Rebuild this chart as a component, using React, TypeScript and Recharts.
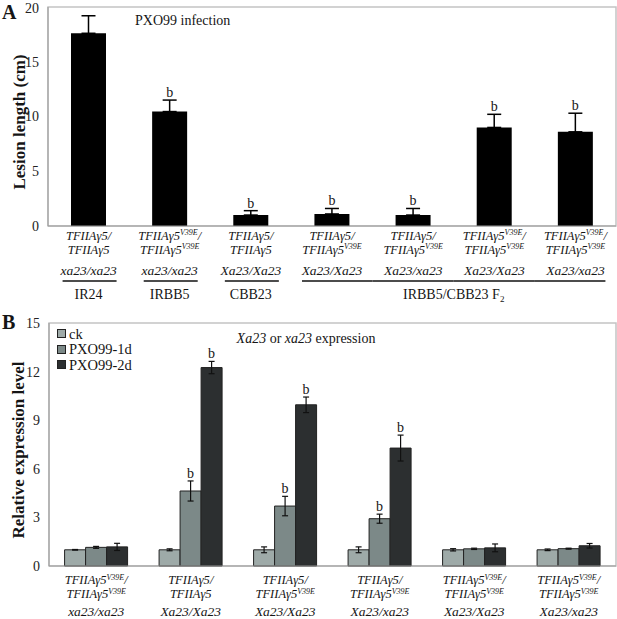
import React from 'react';
import { BarChart, Bar, XAxis, YAxis, ErrorBar, LabelList, ReferenceArea } from 'recharts';

const SERIF = '"Liberation Serif", "Times New Roman", Times, serif';
const GENE = 'TFIIAγ5';

// ---------- Panel A data ----------
const catA = ['IR24', 'IRBB5', 'CBB23', 'F2-1', 'F2-2', 'F2-3', 'F2-4'];
const lesion = [17.6, 10.45, 1.0, 1.1, 1.0, 9.0, 8.6];
const lesionErr = [1.6, 1.05, 0.4, 0.5, 0.6, 1.2, 1.7];
const sigA = ['', 'b', 'b', 'b', 'b', 'b', 'b'];
const sup1A = ['', 'V39E', '', '', '', 'V39E', 'V39E'];
const sup2A = ['', 'V39E', '', 'V39E', 'V39E', 'V39E', 'V39E'];
const xaA = ['xa23/xa23', 'xa23/xa23', 'Xa23/Xa23', 'Xa23/Xa23', 'Xa23/xa23', 'Xa23/Xa23', 'Xa23/xa23'];
const parentA = ['IR24', 'IRBB5', 'CBB23', '', '', '', ''];
const groupLabelA = 'IRBB5/CBB23 F';
const groupSubA = '2';
const yTicksA = [0, 5, 10, 15, 20];

// ---------- Panel B data ----------
const catB = ['G1', 'G2', 'G3', 'G4', 'G5', 'G6'];
const seriesB = ['ck', 'PXO99-1d', 'PXO99-2d'];
const ckVals = [1.0, 1.0, 1.0, 1.0, 1.0, 1.0];
const ckErr = [0.02, 0.06, 0.18, 0.18, 0.07, 0.05];
const d1Vals = [1.15, 4.63, 3.7, 2.92, 1.06, 1.07];
const d1Err = [0.06, 0.62, 0.6, 0.28, 0.04, 0.03];
const d2Vals = [1.18, 12.25, 9.95, 7.28, 1.12, 1.25];
const d2Err = [0.22, 0.38, 0.48, 0.8, 0.24, 0.14];
const sigD1 = ['', 'b', 'b', 'b', '', ''];
const sigD2 = ['', 'b', 'b', 'b', '', ''];
const sup1B = ['V39E', '', '', '', 'V39E', 'V39E'];
const sup2B = ['V39E', '', 'V39E', 'V39E', 'V39E', 'V39E'];
const xaB = ['xa23/xa23', 'Xa23/Xa23', 'Xa23/Xa23', 'Xa23/xa23', 'Xa23/Xa23', 'Xa23/xa23'];
const yTicksB = [0, 3, 6, 9, 12, 15];
const colorsB = ['#9eaaa8', '#7c8988', '#2c2f30'];

const dataA = catA.map((c, i) => ({ cat: c, val: lesion[i], err: [0, lesionErr[i]], sig: sigA[i] }));
const dataB = catB.map((c, i) => ({
  cat: c,
  ck: ckVals[i], ckE: ckErr[i],
  d1: d1Vals[i], d1E: d1Err[i], d1S: sigD1[i],
  d2: d2Vals[i], d2E: d2Err[i], d2S: sigD2[i],
}));

// ---------- layout constants ----------
const W = 617;
const A_H = 312;
const A_LEFT = 48;
const A_RIGHT = 1;
const BAND_A = (W - A_LEFT - A_RIGHT) / catA.length;
const B_TOP = 300;
const B_H = 319;

const txt = (extra: React.CSSProperties = {}): React.CSSProperties => ({ fontFamily: SERIF, ...extra });

function GeneText({ x, y, sup, slash, size = 12.5 }: any) {
  return (
    <text x={x} y={y} textAnchor="middle" fill="#151515" style={txt({ fontStyle: 'italic', fontSize: size })}>
      <tspan>{GENE}</tspan>
      {sup ? <tspan dy={-4.5} style={{ fontSize: 8 }}>{sup}</tspan> : null}
      {slash ? <tspan dy={sup ? 4.5 : 0}>/</tspan> : null}
    </text>
  );
}

function TickA(props: any) {
  const { x, y, payload } = props;
  const i = catA.indexOf(payload.value);
  const first = parentA.indexOf('');
  const last = parentA.lastIndexOf('');
  const inGroup = parentA[i] === '';
  let x1 = x - 26;
  let x2 = x + 28;
  if (inGroup) {
    x1 = i === first ? x - 30 : x - BAND_A / 2;
    x2 = i === last ? x + 30 : x + BAND_A / 2;
  }
  return (
    <g>
      <GeneText x={x} y={y + 13.5} sup={sup1A[i]} slash />
      <GeneText x={x} y={y + 27.5} sup={sup2A[i]} />
      <text x={x} y={y + 49} textAnchor="middle" fill="#151515" style={txt({ fontStyle: 'italic', fontSize: 13.5 })}>{xaA[i]}</text>
      <line x1={x1} x2={x2} y1={y + 55} y2={y + 55} stroke="#111" strokeWidth={1.4} />
      {!inGroup ? (
        <text x={x} y={y + 73} textAnchor="middle" fill="#151515" style={txt({ fontSize: 14 })}>{parentA[i]}</text>
      ) : null}
      {i === first ? (
        <text x={x + ((last - first) / 2) * BAND_A} y={y + 73} textAnchor="middle" fill="#151515" style={txt({ fontSize: 14 })}>
          <tspan>{groupLabelA}</tspan>
          <tspan dy={3} style={{ fontSize: 9 }}>{groupSubA}</tspan>
        </text>
      ) : null}
    </g>
  );
}

function TickB(props: any) {
  const { x, y, payload } = props;
  const i = catB.indexOf(payload.value);
  return (
    <g>
      <GeneText x={x} y={y + 18} sup={sup1B[i]} slash />
      <GeneText x={x} y={y + 32} sup={sup2B[i]} />
      <text x={x} y={y + 49.5} textAnchor="middle" fill="#151515" style={txt({ fontStyle: 'italic', fontSize: 13.5 })}>{xaB[i]}</text>
    </g>
  );
}

const makeSig = (vals: number[], errs: number[]) => (props: any) => {
  const { x, y, width, height, value, index } = props;
  if (!value) return null;
  const ppu = Number(height) / vals[index];
  const top = Number(y) - errs[index] * ppu;
  return (
    <text x={Number(x) + Number(width) / 2} y={top - 3} textAnchor="middle" fill="#151515" style={txt({ fontSize: 14 })}>
      {value}
    </text>
  );
};

const overlayText: React.CSSProperties = { position: 'absolute', fontFamily: SERIF, color: '#151515', whiteSpace: 'nowrap', lineHeight: 1 };
const tickStyle = { fontSize: 14, fill: '#222', fontFamily: SERIF };

export default function App() {
  return (
    <div style={{ position: 'absolute', left: 0, top: 0, width: W, height: 619, background: '#fff', overflow: 'hidden', fontFamily: SERIF }}>
      {/* Panel B (drawn first so panel A's taller svg can overlap harmlessly) */}
      <div style={{ position: 'absolute', left: 0, top: B_TOP }}>
        <BarChart width={W} height={B_H} data={dataB} margin={{ top: 23, right: 1, left: 0, bottom: 0 }} barCategoryGap="16.5%" barGap={0}>
          <ReferenceArea y1={0} y2={15} fill="none" stroke="#c4c4c4" strokeWidth={1.5} ifOverflow="visible" />
          <XAxis dataKey="cat" interval={0} height={53} tickLine={false} tickSize={0} tickMargin={0}
            axisLine={{ stroke: '#999' }} tick={(p: any) => <TickB {...p} />} />
          <YAxis domain={[0, 15]} ticks={yTicksB} width={49} tickLine={false} axisLine={{ stroke: '#999' }}
            tickMargin={3} tick={tickStyle} />
          <Bar dataKey="ck" name={seriesB[0]} fill={colorsB[0]} stroke="#222" strokeWidth={1} isAnimationActive={false}>
            <ErrorBar dataKey="ckE" width={3} stroke="#111" strokeWidth={1.2} direction="y" />
          </Bar>
          <Bar dataKey="d1" name={seriesB[1]} fill={colorsB[1]} stroke="#222" strokeWidth={1} isAnimationActive={false}>
            <ErrorBar dataKey="d1E" width={3} stroke="#111" strokeWidth={1.2} direction="y" />
            <LabelList dataKey="d1S" content={makeSig(d1Vals, d1Err)} />
          </Bar>
          <Bar dataKey="d2" name={seriesB[2]} fill={colorsB[2]} stroke="#222" strokeWidth={1} isAnimationActive={false}>
            <ErrorBar dataKey="d2E" width={3} stroke="#111" strokeWidth={1.2} direction="y" />
            <LabelList dataKey="d2S" content={makeSig(d2Vals, d2Err)} />
          </Bar>
        </BarChart>
      </div>

      {/* Panel A */}
      <div style={{ position: 'absolute', left: 0, top: 0 }}>
        <BarChart width={W} height={A_H} data={dataA} margin={{ top: 7, right: A_RIGHT, left: 0, bottom: 0 }}>
          <ReferenceArea y1={0} y2={20} fill="none" stroke="#c4c4c4" strokeWidth={1.5} ifOverflow="visible" />
          <XAxis dataKey="cat" interval={0} height={A_H - 226} tickLine={false} tickSize={0} tickMargin={0}
            axisLine={{ stroke: '#999' }} tick={(p: any) => <TickA {...p} />} />
          <YAxis domain={[0, 20]} ticks={yTicksA} width={A_LEFT} tickLine={false} axisLine={{ stroke: '#999' }}
            tickMargin={3} tick={tickStyle} />
          <Bar dataKey="val" fill="#000" barSize={35} isAnimationActive={false}>
            <ErrorBar dataKey="err" width={7} stroke="#000" strokeWidth={1.5} direction="y" />
            <LabelList dataKey="sig" content={makeSig(lesion, lesionErr)} />
          </Bar>
        </BarChart>
      </div>

      <div style={{ ...overlayText, left: 2, top: 2, fontSize: 20, fontWeight: 'bold' }}>A</div>
      <div style={{ ...overlayText, left: 135, top: 14, fontSize: 14 }}>PXO99 infection</div>
      <div style={{ ...overlayText, left: 19, top: 122, fontSize: 17, fontWeight: 'bold', transform: 'translate(-50%, -50%) rotate(-90deg)' }}>
        Lesion length (cm)
      </div>

      <div style={{ ...overlayText, left: 2, top: 312, fontSize: 20, fontWeight: 'bold' }}>B</div>
      <div style={{ ...overlayText, left: 18, top: 450, fontSize: 17, fontWeight: 'bold', transform: 'translate(-50%, -50%) rotate(-90deg)' }}>
        Relative expression level
      </div>
      <div style={{ ...overlayText, left: 306, top: 339, fontSize: 14, transform: 'translate(-50%, -50%)' }}>
        <i>Xa23</i> or <i>xa23</i> expression
      </div>
      <div style={{ position: 'absolute', left: 57, top: 326 }}>
        {seriesB.map((s, i) => (
          <div key={s} style={{ display: 'flex', alignItems: 'center', height: 15.5 }}>
            <span style={{ display: 'inline-block', width: 7, height: 7, background: colorsB[i], border: '1px solid #222', marginRight: 3 }} />
            <span style={{ fontFamily: SERIF, fontSize: 14.5, color: '#151515', lineHeight: 1 }}>{s}</span>
          </div>
        ))}
      </div>
    </div>
  );
}
